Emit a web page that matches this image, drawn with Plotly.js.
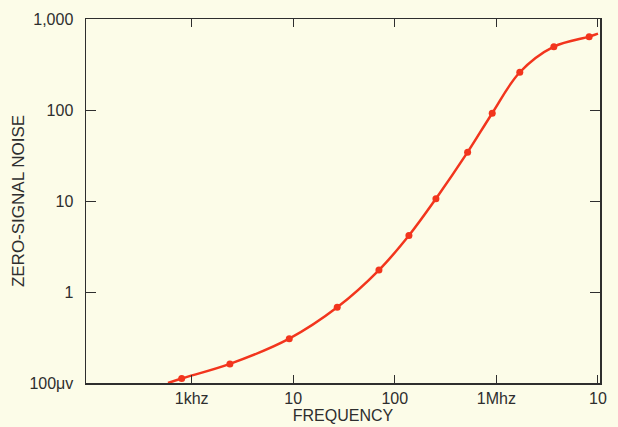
<!DOCTYPE html>
<html>
<head>
<meta charset="utf-8">
<script src="https://cdn.plot.ly/plotly-3.0.1.min.js"></script>
<style>
  html, body { margin: 0; padding: 0; background: #fcfce8; }
  #chart { width: 618px; height: 427px; }
</style>
</head>
<body>
<div id="chart"></div>
<script>
// Frequency (Hz) of the plotted points
const freqHz = [798, 2380, 9140, 27100, 69800, 137700, 254000, 521000, 910000, 1700000, 3680000, 8190000];
// Zero-signal noise (mV) at those points
const noiseMv = [0.112, 0.162, 0.307, 0.678, 1.74, 4.18, 10.6, 34.4, 92.2, 260, 497, 640];
// Where the drawn curve starts and ends beyond the points
const curveStartHz = 585, curveStartMv = 0.1;
const curveEndHz = 10000000, curveEndMv = 690;

const xTickVals = [1e3, 1e4, 1e5, 1e6, 1e7];
const xTickText = ["1khz", "10", "100", "1Mhz", "10"];
const yTickVals = [0.1, 1, 10, 100, 1000];
const yTickText = ["100\u03bcv", "1", "10", "100", "1,000"];

const curveX = [curveStartHz].concat(freqHz, [curveEndHz]);
const curveY = [curveStartMv].concat(noiseMv, [curveEndMv]);

const red = "#f2351d";
const ink = "#2e2e2e";
const font = "Liberation Sans, Arial, sans-serif";

const traces = [
  {
    x: curveX, y: curveY, type: "scatter", mode: "lines",
    line: { color: red, width: 2.5, shape: "spline", smoothing: 1 },
    hoverinfo: "skip", showlegend: false
  },
  {
    x: freqHz, y: noiseMv, type: "scatter", mode: "markers",
    marker: { color: red, size: 7 },
    showlegend: false
  }
];

const layout = {
  width: 618, height: 427,
  margin: { l: 86, r: 18, t: 19, b: 44 },
  paper_bgcolor: "#fcfce8",
  plot_bgcolor: "#fcfce8",
  font: { family: font, size: 16, color: ink },
  showlegend: false,
  xaxis: {
    type: "log",
    range: [1.96, 7.02],
    tickvals: xTickVals, ticktext: xTickText,
    ticks: "inside", ticklen: 8, tickwidth: 1, tickcolor: ink,
    showline: true, linecolor: ink, linewidth: 1.5, mirror: "ticks",
    showgrid: false, zeroline: false,
    tickfont: { family: font, size: 16, color: ink },
    title: { text: "FREQUENCY", font: { family: font, size: 16, color: ink }, standoff: 2 }
  },
  yaxis: {
    type: "log",
    range: [-1, 3],
    tickvals: yTickVals, ticktext: yTickText,
    ticks: "inside", ticklen: 10, tickwidth: 1, tickcolor: ink,
    ticklabelstandoff: 8,
    showline: true, linecolor: ink, linewidth: 1.5, mirror: "ticks",
    showgrid: false, zeroline: false,
    tickfont: { family: font, size: 16, color: ink },
    title: { text: "ZERO-SIGNAL NOISE", font: { family: font, size: 17, color: ink }, standoff: 0 }
  }
};

Plotly.newPlot("chart", traces, layout, { displayModeBar: false, staticPlot: true });
</script>
</body>
</html>
